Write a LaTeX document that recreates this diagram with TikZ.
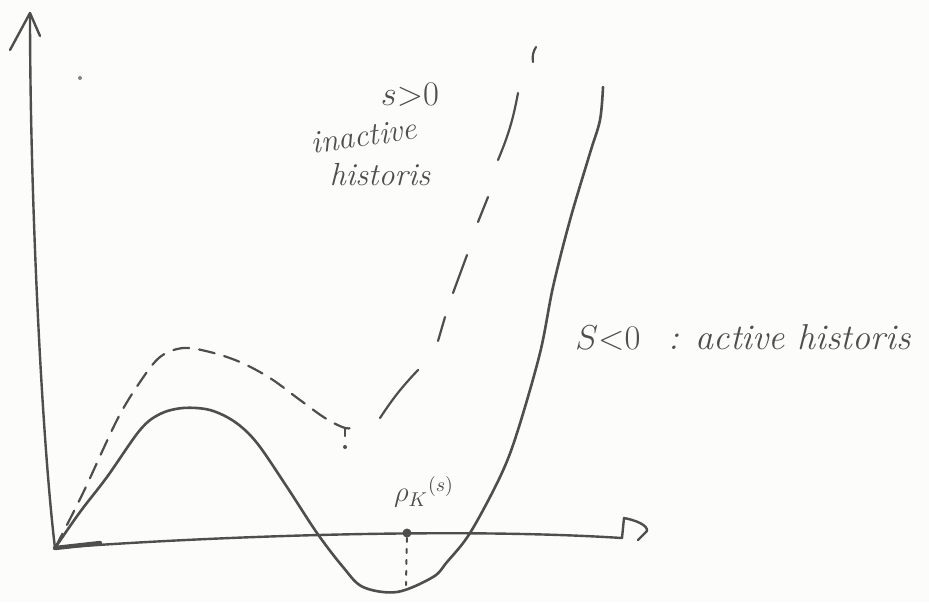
\documentclass[tikz,border=0pt]{standalone}
\usepackage{amsmath}
\definecolor{inkc}{HTML}{4E4E4E}
\definecolor{bgc}{HTML}{FCFCFA}
\begin{document}
\begin{tikzpicture}[x=0.5pt,y=-0.5pt,
  ink/.style={draw=inkc, line width=1.2pt, line cap=round, line join=round},
  lbl/.style={text=inkc, font=\fontsize{17}{20}\selectfont\itshape, inner sep=0pt},
  dashlow/.style={ink, line width=1.1pt, dash pattern=on 8pt off 5pt},
]
\fill[bgc] (0,0) rectangle (929,602);
\useasboundingbox (0,0) rectangle (929,602);

% axes
\coordinate (O) at (55,548);
\coordinate (ytip) at (30,13);
\coordinate (yl) at (10,50);
\coordinate (yr) at (40,36);
\coordinate (xend) at (622,538);
\coordinate (xa) at (624,518);
\coordinate (xb) at (647,531);
\coordinate (xc) at (638,540);
\coordinate (Othick) at (100,543);
\draw[ink] (O) .. controls (42,440) and (30,200) .. (ytip);
\draw[ink] (yl) -- (ytip) -- (yr);
\draw[ink] (O) .. controls (200,537) and (450,527) .. (xend);
\draw[ink] (xend) -- (xa) .. controls (635,520) and (648,525) .. (xb) -- (xc);
\draw[ink, line width=2.2pt] (O) -- (Othick);

% stray dot
\fill[inkc!70] (80,78) circle (1pt);

% solid curve (s<0)
\draw[ink, line width=1.3pt] plot[smooth, tension=0.55] coordinates {
 (55,548) (80,512) (107,477) (140,430) (160,414) (183,408) (210,410) (235,422)
 (257,443) (287,487) (317,533) (343,567) (363,587) (397,592) (433,577) (447,562)
 (470,533) (500,477) (517,433) (540,353) (553,287) (570,220) (590,153) (600,120) (603,87)};

% dashed curve (s>0), lower part
\draw[dashlow] plot[smooth, tension=0.55] coordinates {
 (55,548) (83,493) (117,420) (140,382) (160,357) (183,348) (210,352) (240,362)
 (270,378) (300,400) (325,418) (345,428) (355,427)};
\coordinate (dmin) at (345,428);
\coordinate (dtick) at (345,436);
\draw[ink, line width=1pt] (dmin) -- (dtick);
\fill[inkc] (345,447) circle (1pt);

% dashed curve, upper part (long hand-drawn dashes)
\draw[ink, line width=1.1pt] (380,418) to[bend left=5] (418,370);
\draw[ink, line width=1.1pt] (438,341) -- (445,317);
\draw[ink, line width=1.1pt] (453,293) -- (467,255);
\draw[ink, line width=1.1pt] (478,222) -- (488,197);
\draw[ink, line width=1.1pt] (498,160) to[bend right=6] (518,93);
\draw[ink, line width=1.1pt] (533,62) to[bend left=20] (536,47);

% rho_K(s)
\node[circle, fill=inkc, inner sep=0pt, minimum size=4.5pt] (rho) at (407,533) {};
\coordinate (rhofoot) at (406,585);
\draw[ink, line width=1pt, dash pattern=on 2pt off 3.5pt] (rho) -- (rhofoot);
\node[text=inkc, font=\fontsize{14}{16}\selectfont, inner sep=0pt] (rholbl) at (424,492) {$\rho_K{}^{(s)}$};

% labels
\node[lbl] (spos) at (410,95) {$s{>}0$};
\node[lbl, font=\fontsize{16}{18}\selectfont\itshape, rotate=8] (inact) at (364,136) {inactive};
\node[lbl, font=\fontsize{16}{18}\selectfont\itshape] (hist) at (380,175) {historis};
\node[lbl, font=\fontsize{18}{20}\selectfont\itshape, anchor=base west] (act) at (575,349)
  {$S{<}0$\hspace{14pt}: active historis};
\end{tikzpicture}
\end{document}
